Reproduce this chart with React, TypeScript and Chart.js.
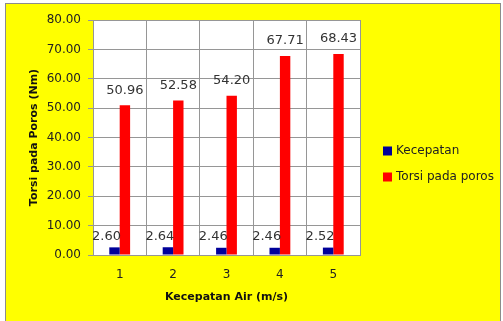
import { useEffect, useRef } from "react";
import { Chart, registerables } from "chart.js";

Chart.register(...registerables);

// Water speed categories (m/s)
const categories = ["1", "2", "3", "4", "5"];
// Measured values per category
const kecepatan = [2.6, 2.64, 2.46, 2.46, 2.52];
const torsi = [50.96, 52.58, 54.2, 67.71, 68.43];
const seriesNames = ["Kecepatan", "Torsi pada poros"];
const seriesColors = ["#000099", "#ff0000"];
// Value axis range
const yMin = 0;
const yMax = 80;
const yStep = 10;

const FONT = "'DejaVu Sans', sans-serif";
const GRID = "#969696";

// Yellow panel with a thin grey frame, white plot area
const framePlugin = {
  id: "frame",
  beforeDraw(chart: any) {
    const { ctx, width, height, chartArea } = chart;
    ctx.save();
    ctx.fillStyle = "#ffffff";
    ctx.fillRect(0, 0, width, height);
    ctx.fillStyle = "#ffff00";
    ctx.fillRect(5, 3, 495, height);
    ctx.strokeStyle = "#8c8c8c";
    ctx.lineWidth = 1;
    ctx.strokeRect(5.5, 3.5, 495, height + 5);
    ctx.fillStyle = "#ffffff";
    ctx.fillRect(
      chartArea.left,
      chartArea.top,
      chartArea.right - chartArea.left,
      chartArea.bottom - chartArea.top
    );
    ctx.restore();
  },
};

// Value labels above each bar
const labelOffsets = [
  { dx: -8, dy: 11 },
  { dx: 0, dy: 15 },
];
const valueLabelPlugin = {
  id: "valueLabels",
  afterDatasetsDraw(chart: any) {
    const { ctx } = chart;
    ctx.save();
    ctx.font = `13px ${FONT}`;
    ctx.fillStyle = "#333333";
    ctx.textAlign = "center";
    ctx.textBaseline = "middle";
    chart.data.datasets.forEach((ds: any, di: number) => {
      const meta = chart.getDatasetMeta(di);
      const off = labelOffsets[di];
      meta.data.forEach((bar: any, i: number) => {
        const v = ds.data[i] as number;
        ctx.fillText(v.toFixed(2), bar.x + off.dx, bar.y - off.dy);
      });
    });
    ctx.restore();
  },
};

// Legend to the right of the plot
const sideLegendPlugin = {
  id: "sideLegend",
  afterDraw(chart: any) {
    const { ctx } = chart;
    ctx.save();
    ctx.font = `12px ${FONT}`;
    ctx.textAlign = "left";
    ctx.textBaseline = "middle";
    chart.data.datasets.forEach((ds: any, di: number) => {
      const y = 151 + di * 26;
      ctx.fillStyle = ds.backgroundColor;
      ctx.fillRect(383, y - 4.5, 9, 9);
      ctx.fillStyle = "#222222";
      ctx.fillText(ds.label, 396, y);
    });
    ctx.restore();
  },
};

export default function App() {
  const canvasRef = useRef<HTMLCanvasElement | null>(null);

  useEffect(() => {
    if (!canvasRef.current) return;
    const chart = new Chart(canvasRef.current, {
      type: "bar",
      data: {
        labels: categories,
        datasets: [
          {
            label: seriesNames[0],
            data: kecepatan,
            backgroundColor: seriesColors[0],
            barPercentage: 1,
            categoryPercentage: 0.39,
          },
          {
            label: seriesNames[1],
            data: torsi,
            backgroundColor: seriesColors[1],
            barPercentage: 1,
            categoryPercentage: 0.39,
          },
        ],
      },
      options: {
        responsive: false,
        animation: false,
        layout: { padding: { left: 0, top: 20, right: 143, bottom: 0 } },
        plugins: {
          legend: { display: false },
          tooltip: { enabled: false },
        },
        scales: {
          x: {
            afterFit: (scale: any) => {
              scale.height = 66;
            },
            grid: { color: GRID, drawTicks: false, offset: true },
            border: { color: GRID },
            ticks: {
              padding: 13,
              color: "#222222",
              font: { family: FONT, size: 12 },
            },
            title: {
              display: true,
              text: "Kecepatan Air (m/s)",
              color: "#111111",
              font: { family: FONT, size: 11, weight: "bold" },
              padding: { top: 0, bottom: 17 },
            },
          },
          y: {
            min: yMin,
            max: yMax,
            afterFit: (scale: any) => {
              scale.width = 93;
            },
            grid: { color: GRID, tickLength: 5 },
            border: { color: GRID },
            ticks: {
              stepSize: yStep,
              padding: 7,
              color: "#222222",
              font: { family: FONT, size: 12 },
              callback: (v: any) => Number(v).toFixed(2),
            },
            title: {
              display: true,
              text: "Torsi pada Poros (Nm)",
              color: "#111111",
              font: { family: FONT, size: 11, weight: "bold" },
              padding: { top: 28, bottom: 0 },
            },
          },
        },
      },
      plugins: [framePlugin, valueLabelPlugin, sideLegendPlugin],
    });
    return () => chart.destroy();
  }, []);

  return (
    <div style={{ position: "fixed", left: 0, top: 0, width: 503, height: 321 }}>
      <canvas ref={canvasRef} width={503} height={321} style={{ display: "block" }} />
    </div>
  );
}
